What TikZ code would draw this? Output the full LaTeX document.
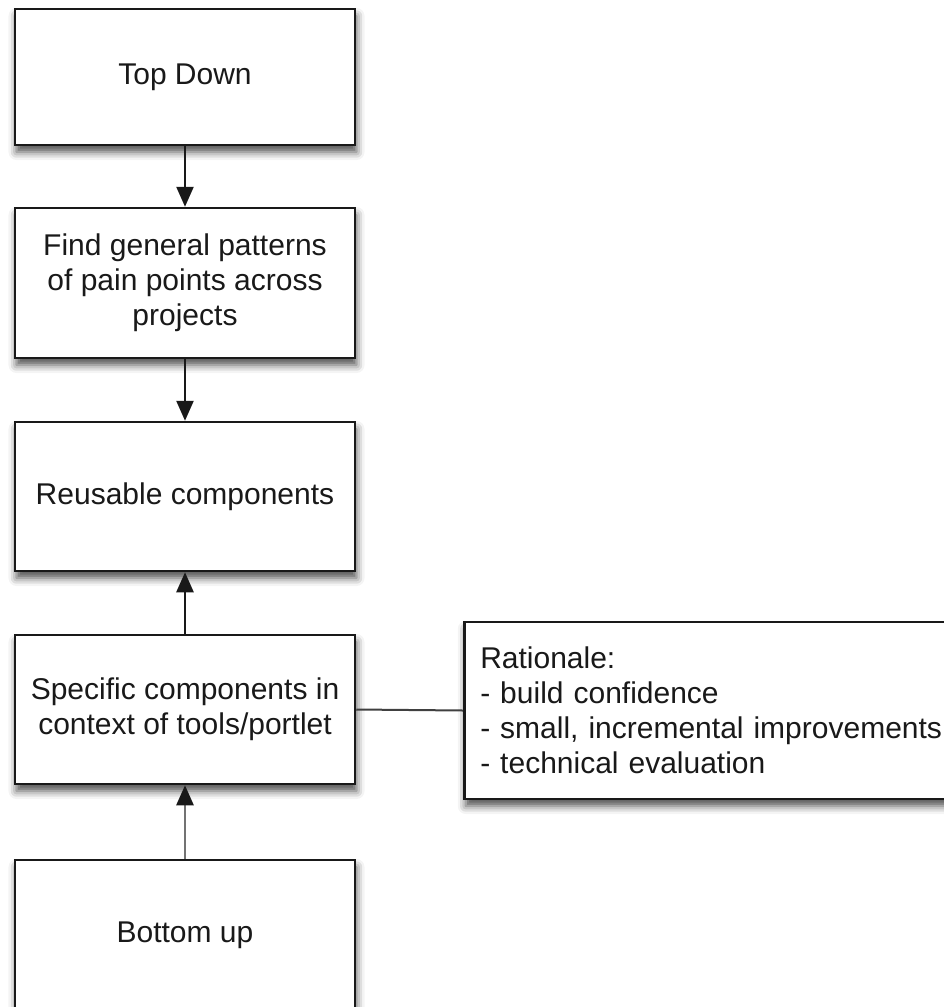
\documentclass[tikz,border=0pt]{standalone}
\usepackage{fontspec}
\setmainfont{Liberation Sans}
\usetikzlibrary{arrows.meta,shadows.blur}

\tikzset{
  stepbox/.style={
    draw=black!90, line width=2.5pt, fill=white, rectangle,
    minimum width=340pt, minimum height=149pt, inner sep=0pt,
    align=center, text=black!90,
    font=\fontsize{30}{35}\selectfont,
    blur shadow={shadow xshift=1.5pt, shadow yshift=-7pt,
                 shadow blur radius=8pt, shadow opacity=70}
  },
  notebox/.style={
    stepbox, minimum width=0pt, minimum height=177pt,
    text width=495pt, align=left, inner xsep=16pt
  },
  flow/.style={line width=2.5pt, draw=black!90,
    -{Triangle[length=20pt,width=17pt,color=black!90]}},
  flowgrey/.style={flow, draw=black!55},
  link/.style={line width=2pt, draw=black!75}
}

\begin{document}
\begin{tikzpicture}[x=1pt, y=-1pt]
  \useasboundingbox (0,0) rectangle (943,1007);

  % boxes of the chain
  \node[stepbox, minimum height=136pt] (top)   at (185,77)    {Top Down};
  \node[stepbox, minimum height=150pt] (find)  at (185,283)   {Find general patterns\\of pain points across\\projects};
  \node[stepbox]                       (reuse) at (185,496.5) {Reusable components};
  \node[stepbox]                       (spec)  at (185,709.5) {Specific components in\\context of tools/portlet};
  \node[stepbox, minimum height=150pt] (bottom) at (185,935)  {Bottom up};

  % side note
  \node[notebox, anchor=west] (why) at (463,710.5)
    {Rationale:\\- build confidence\\- small, incremental improvements\\- technical evaluation};

  % connectors
  \draw[flow] (top.south) -- (find.north);
  \draw[flow] (find.south) -- (reuse.north);
  \draw[flow] (spec.north) -- (reuse.south);
  \draw[flowgrey] (bottom.north) -- (spec.south);
  \draw[link] (spec.east) -- (why.west);
\end{tikzpicture}
\end{document}
